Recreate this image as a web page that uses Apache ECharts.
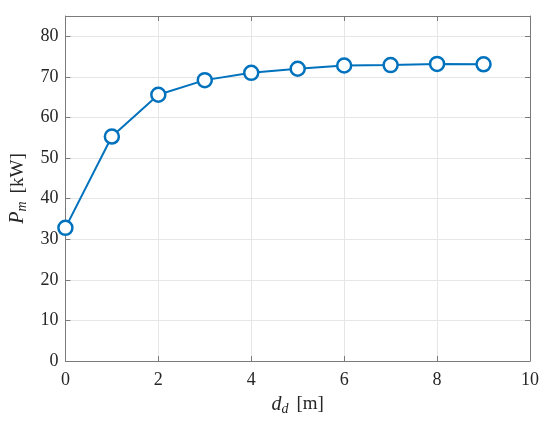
<!DOCTYPE html>
<html><head><meta charset="utf-8">
<script src="https://cdn.jsdelivr.net/npm/echarts@6/dist/echarts.min.js"></script>
<style>html,body{margin:0;padding:0;background:#fff}#c{width:550px;height:424px}</style>
</head><body><div id="c"></div>
<script>
const xValues = [0, 1, 2, 3, 4, 5, 6, 7, 8, 9];
const pmValues = [32.8, 55.3, 65.6, 69.2, 71.0, 72.0, 72.8, 72.9, 73.2, 73.1];
const xTicks = [0, 2, 4, 6, 8, 10];
const yTicks = [0, 10, 20, 30, 40, 50, 60, 70, 80];

const FONT = '"Liberation Serif", "DejaVu Serif", serif';
const AX = '#7a7a7a';
const TXT = '#262626';
const chart = echarts.init(document.getElementById('c'));
const rich = {
  it: {fontFamily: FONT, fontStyle: 'italic', fontSize: 20, color: TXT},
  sub: {fontFamily: FONT, fontStyle: 'italic', fontSize: 14, color: TXT, verticalAlign: 'bottom', padding: [9, 0, 0, 0]},
  sp: {fontFamily: FONT, fontSize: 19, color: TXT, width: 8},
  n: {fontFamily: FONT, fontSize: 19, color: TXT}
};
function frameAxis(pos, min, max, interval, ticks) {
  return {
    type: 'value', min: min, max: max, interval: interval, position: pos,
    axisLine: {show: true, onZero: false, lineStyle: {color: AX, width: 1}},
    axisTick: {show: true, inside: true, length: 5, lineStyle: {color: AX}, customValues: ticks},
    axisLabel: {show: false},
    splitLine: {show: false}
  };
}
chart.setOption({
  animation: false,
  grid: {left: 64, top: 16, right: 20, bottom: 63, containLabel: false},
  xAxis: [
    {
      type: 'value', min: 0, max: 10, interval: 2,
      name: '{it|d}{sub|d}{sp| }{n|[m]}', nameLocation: 'middle', nameGap: 32,
      nameTextStyle: {rich: rich},
      axisLine: {show: true, onZero: false, lineStyle: {color: AX, width: 1}},
      axisTick: {show: true, inside: true, length: 5, lineStyle: {color: AX}, customValues: xTicks},
      axisLabel: {fontFamily: FONT, fontSize: 18, color: TXT, margin: 10, customValues: xTicks},
      splitLine: {show: true, lineStyle: {color: '#e6e6e6', width: 1}}
    },
    frameAxis('top', 0, 10, 2, xTicks)
  ],
  yAxis: [
    {
      type: 'value', min: 0, max: 85, interval: 10,
      name: '{it|P}{sub|m}{sp| }{n|[kW]}', nameLocation: 'middle', nameGap: 32, nameRotate: 90,
      nameTextStyle: {rich: rich},
      axisLine: {show: true, onZero: false, lineStyle: {color: AX, width: 1}},
      axisTick: {show: true, inside: true, length: 5, lineStyle: {color: AX}, customValues: yTicks},
      axisLabel: {fontFamily: FONT, fontSize: 18, color: TXT, margin: 7, customValues: yTicks},
      splitLine: {show: true, lineStyle: {color: '#e6e6e6', width: 1}}
    },
    frameAxis('right', 0, 85, 10, yTicks)
  ],
  series: [{
    type: 'line',
    data: xValues.map((x, i) => [x, pmValues[i]]),
    lineStyle: {color: '#0072BD', width: 2},
    symbol: 'circle', symbolSize: 14,
    itemStyle: {color: '#ffffff', borderColor: '#0072BD', borderWidth: 2.5},
    z: 5
  }]
});
</script></body></html>
